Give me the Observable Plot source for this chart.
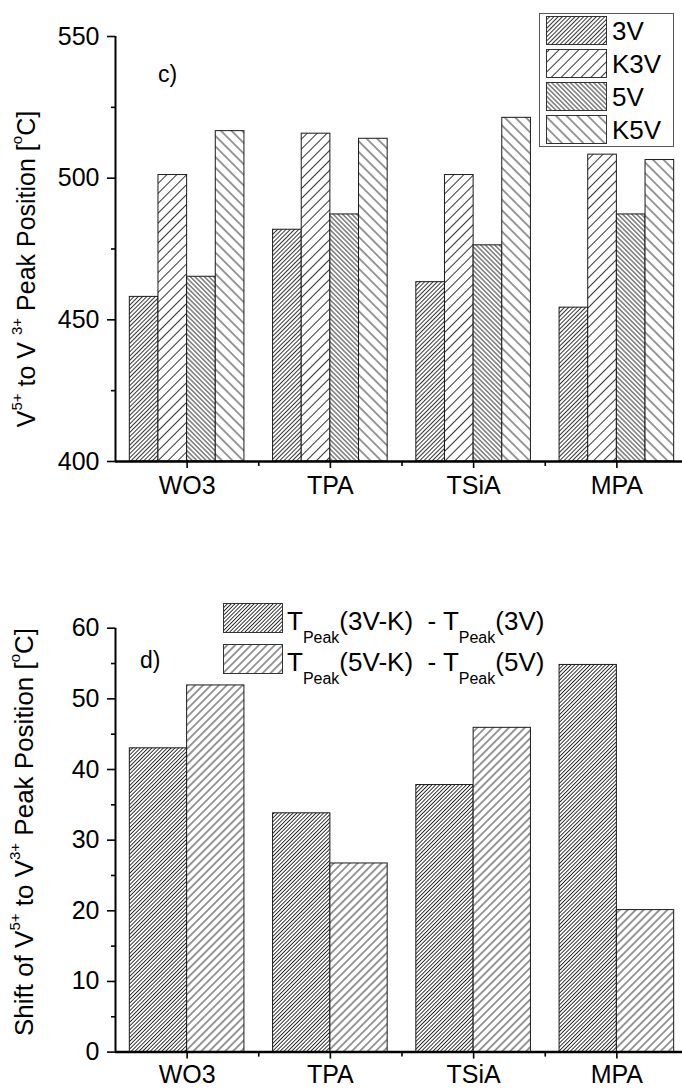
<!DOCTYPE html>
<html>
<head>
<meta charset="utf-8">
<script src="https://cdn.jsdelivr.net/npm/d3@7"></script>
<script src="https://cdn.jsdelivr.net/npm/@observablehq/plot@0.6"></script>
<style>
  html, body { margin: 0; padding: 0; background: #fff; }
  #chart { width: 682px; }
  #chart svg { display: block; }
</style>
</head>
<body>
<svg id="patdefs" width="0" height="0" style="position:absolute"><defs></defs></svg>
<div id="chart"></div>
<script>
// ---------- data ----------
const categories = ["WO3", "TPA", "TSiA", "MPA"];

// panel c) : V5+ -> V3+ peak position [°C]
const seriesC = ["3V", "K3V", "5V", "K5V"];
const peak3V  = [458.1, 481.8, 463.3, 454.3];
const peakK3V = [501.1, 515.7, 501.1, 508.3];
const peak5V  = [465.2, 487.2, 476.3, 487.2];
const peakK5V = [516.6, 513.9, 521.3, 506.4];
const yTicksC = [400, 450, 500, 550];
const yMinorC = [425, 475, 525];

// panel d) : shift of peak position [°C]
const seriesD = ["(3V-K) - (3V)", "(5V-K) - (5V)"];
const shift3V = [43.0, 33.8, 37.8, 54.8];
const shift5V = [51.9, 26.7, 45.9, 20.1];
const yTicksD = [0, 10, 20, 30, 40, 50, 60];
const yMinorD = [5, 15, 25, 35, 45, 55];

// ---------- styling ----------
const FONT = "'Liberation Sans', Arial, Helvetica, sans-serif";
const patterns = [
  {id: "p3V",  angle: 45,  gap: 3.0},
  {id: "pK3V", angle: 45,  gap: 7.0},
  {id: "p5V",  angle: -45, gap: 3.3},
  {id: "pK5V", angle: -45, gap: 7.5},
  {id: "pD1",  angle: 45,  gap: 2.7},
  {id: "pD2",  angle: 45,  gap: 5.6}
];
const defs = d3.select("#patdefs defs");
for (const p of patterns) {
  const pat = defs.append("pattern")
    .attr("id", p.id)
    .attr("patternUnits", "userSpaceOnUse")
    .attr("width", p.gap).attr("height", p.gap)
    .attr("patternTransform", `rotate(${p.angle})`);
  pat.append("rect").attr("width", p.gap).attr("height", p.gap).attr("fill", "#fff");
  pat.append("line")
    .attr("x1", p.gap / 2).attr("x2", p.gap / 2)
    .attr("y1", -1).attr("y2", p.gap + 1)
    .attr("stroke", "#111").attr("stroke-width", 0.85);
}
const patC = ["p3V", "pK3V", "p5V", "pK5V"];
const patD = ["pD1", "pD2"];

function richText(parent, parts, base, attrs) {
  const t = parent.append("text")
    .attr("font-family", FONT)
    .attr("font-size", base)
    .attr("fill", "#000")
    .attr("text-anchor", "start")
    .style("white-space", "pre");
  for (const [k, v] of Object.entries(attrs)) t.attr(k, v);
  let shift = 0;
  for (const p of parts) {
    const s = typeof p === "string" ? {t: p, d: 0, size: base} : p;
    t.append("tspan").attr("font-size", s.size).attr("dy", s.d - shift).text(s.t);
    shift = s.d;
  }
  return t;
}

// ---------- panel c ----------
const valuesC = [peak3V, peakK3V, peak5V, peakK5V];
const nC = seriesC.length;
const groupW = 0.8;
const rowsC = categories.flatMap((cat, i) =>
  seriesC.map((s, j) => ({cat, i, j, series: s, value: valuesC[j][i]})));

const axisStyle = {strokeWidth: 1.6, label: null};
const plotC = Plot.plot({
  width: 682, height: 520,
  marginLeft: 115, marginRight: 0, marginTop: 36, marginBottom: 59,
  x: {domain: [-0.5, categories.length - 0.5], range: [115, 688], axis: null},
  y: {domain: [400, 550], axis: null},
  style: {fontFamily: FONT, fontSize: "25px", color: "#000", background: "#fff"},
  marks: [
    Plot.rectY(rowsC, {
      x1: d => d.i - groupW / 2 + d.j * groupW / nC,
      x2: d => d.i - groupW / 2 + (d.j + 1) * groupW / nC,
      y1: 400, y2: "value",
      fill: d => `url(#${patC[d.j]})`,
      stroke: "#1a1a1a", strokeWidth: 1
    }),
    Plot.ruleX([-0.5], {stroke: "#000", strokeWidth: 2}),
    Plot.ruleY([400], {stroke: "#000", strokeWidth: 2.5}),
    Plot.axisY({ticks: yTicksC, tickSize: 8, tickPadding: 8, fontSize: 25, ...axisStyle}),
    Plot.axisY({ticks: yMinorC, tickSize: 4, tickFormat: () => "", ...axisStyle}),
    Plot.axisX({ticks: categories.map((c, i) => i), tickFormat: i => categories[i],
                tickSize: 7, tickPadding: 8, fontSize: 25, ...axisStyle}),
    Plot.axisX({ticks: [0.5, 1.5, 2.5], tickSize: 5, tickFormat: () => "", ...axisStyle})
  ]
});

{
  const svg = d3.select(plotC);
  richText(svg, ["V", {t: "5+", d: -13, size: 15}, " to V ", {t: "3+", d: -13, size: 15},
                 " Peak Position [", {t: "o", d: -13, size: 15}, "C]"], 25,
           {"text-anchor": "middle", transform: "translate(35,269) rotate(-90)"});
  svg.append("text").attr("x", 158).attr("y", 82).attr("font-family", FONT)
     .attr("text-anchor", "start")
     .attr("font-size", 23).attr("fill", "#000").text("c)");
  // legend
  const lg = svg.append("g");
  lg.append("rect").attr("x", 539.5).attr("y", 13.5).attr("width", 134).attr("height", 133)
    .attr("fill", "#fff").attr("stroke", "#555").attr("stroke-width", 1);
  const rowY = [16, 49, 82, 115];
  seriesC.forEach((s, j) => {
    lg.append("rect").attr("x", 546.5).attr("y", rowY[j] + 0.5).attr("width", 60).attr("height", 28)
      .attr("fill", `url(#${patC[j]})`).attr("stroke", "#333").attr("stroke-width", 1);
    lg.append("text").attr("x", 612).attr("y", rowY[j] + 24).attr("font-family", FONT)
      .attr("text-anchor", "start")
      .attr("font-size", 26).attr("fill", "#000").text(s);
  });
}

// ---------- panel d ----------
const valuesD = [shift3V, shift5V];
const nD = seriesD.length;
const rowsD = categories.flatMap((cat, i) =>
  seriesD.map((s, j) => ({cat, i, j, series: s, value: valuesD[j][i]})));

const plotD = Plot.plot({
  width: 682, height: 571,
  marginLeft: 115, marginRight: 0, marginTop: 107.7, marginBottom: 39.4,
  x: {domain: [-0.5, categories.length - 0.5], range: [115, 688], axis: null},
  y: {domain: [0, 60], axis: null},
  style: {fontFamily: FONT, fontSize: "25px", color: "#000", background: "#fff"},
  marks: [
    Plot.rectY(rowsD, {
      x1: d => d.i - groupW / 2 + d.j * groupW / nD,
      x2: d => d.i - groupW / 2 + (d.j + 1) * groupW / nD,
      y1: 0, y2: "value",
      fill: d => `url(#${patD[d.j]})`,
      stroke: "#1a1a1a", strokeWidth: 1
    }),
    Plot.ruleX([-0.5], {stroke: "#000", strokeWidth: 2}),
    Plot.ruleY([0], {stroke: "#000", strokeWidth: 2.5}),
    Plot.axisY({ticks: yTicksD, tickSize: 8, tickPadding: 8, fontSize: 25, ...axisStyle}),
    Plot.axisY({ticks: yMinorD, tickSize: 4, tickFormat: () => "", ...axisStyle}),
    Plot.axisX({ticks: categories.map((c, i) => i), tickFormat: i => categories[i],
                tickSize: 7, tickPadding: 6, fontSize: 25, ...axisStyle}),
    Plot.axisX({ticks: [0.5, 1.5, 2.5], tickSize: 5, tickFormat: () => "", ...axisStyle})
  ]
});

{
  const svg = d3.select(plotD);
  richText(svg, ["Shift of V", {t: "5+", d: -13, size: 15}, " to V", {t: "3+", d: -13, size: 15},
                 " Peak Position [", {t: "o", d: -13, size: 15}, "C]"], 26,
           {"text-anchor": "middle", transform: "translate(33,312) rotate(-90)"});
  svg.append("text").attr("x", 140).attr("y", 148).attr("font-family", FONT)
     .attr("text-anchor", "start")
     .attr("font-size", 23).attr("fill", "#000").text("d)");
  const rowY = [83, 124];
  const legendParts = [
    ["T", {t: "Peak", d: 13, size: 16}, "(3V-K)  - T", {t: "Peak", d: 13, size: 16}, "(3V)"],
    ["T", {t: "Peak", d: 13, size: 16}, "(5V-K)  - T", {t: "Peak", d: 13, size: 16}, "(5V)"]
  ];
  seriesD.forEach((s, j) => {
    svg.append("rect").attr("x", 223.5).attr("y", rowY[j] + 0.5).attr("width", 59).attr("height", 29)
      .attr("fill", `url(#${patD[j]})`).attr("stroke", "#333").attr("stroke-width", 1);
    richText(svg, legendParts[j], 26, {x: 287, y: rowY[j] + 27});
  });
}

document.getElementById("chart").append(plotC, plotD);
</script>
</body>
</html>
